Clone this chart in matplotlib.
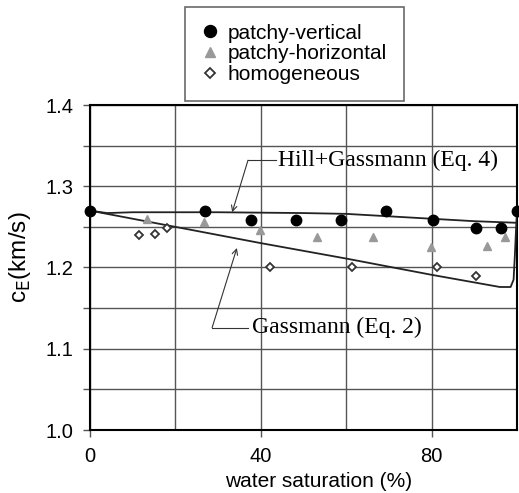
import matplotlib
matplotlib.use("Agg")
from matplotlib import pyplot as plt
from matplotlib.ticker import MultipleLocator

# data
sw_vert = [0, 26.9, 37.6, 48.2, 58.7, 69.3, 80.4, 90.5, 96.2, 100]
c_vert = [1.270, 1.270, 1.259, 1.259, 1.259, 1.270, 1.259, 1.249, 1.249, 1.270]

sw_horiz = [13.3, 26.7, 39.8, 53.2, 66.3, 79.8, 93.0, 97.2]
c_horiz = [1.260, 1.256, 1.246, 1.237, 1.237, 1.225, 1.226, 1.237]

sw_homo = [11.5, 15.2, 18.1, 42.2, 61.3, 81.3, 90.5]
c_homo = [1.240, 1.241, 1.249, 1.200, 1.200, 1.200, 1.190]

sw_hill = [0, 4, 10, 30, 50, 60, 70, 80, 90, 100]
c_hill = [1.270, 1.267, 1.268, 1.268, 1.267, 1.266, 1.263, 1.260, 1.257, 1.255]

sw_gass = [0, 20, 40, 60, 80, 96, 98.5, 99.2, 99.5, 99.8, 100]
c_gass = [1.270, 1.250, 1.230, 1.211, 1.191, 1.176, 1.176, 1.185, 1.215, 1.250, 1.270]

plt.rcParams['font.family'] = ['Liberation Sans', 'DejaVu Sans']

fig = plt.figure(figsize=(5.19, 4.93), dpi=100)
ax = fig.add_axes([90 / 519, 1 - 430 / 493, 427 / 519, 325 / 493])

ax.plot(sw_hill, c_hill, color='#222222', lw=1.3, zorder=3)
ax.plot(sw_gass, c_gass, color='#222222', lw=1.3, zorder=3)

h1, = ax.plot(sw_vert, c_vert, 'o', color='black', ms=7.5, ls='none', zorder=5,
              label='patchy-vertical', clip_on=False)
h2, = ax.plot(sw_horiz, c_horiz, '^', color='#999999', ms=6, ls='none', zorder=4,
              label='patchy-horizontal')
h3, = ax.plot(sw_homo, c_homo, 'D', mfc='white', mec='#333333', mew=1.3, ms=4.5,
              ls='none', zorder=4, label='homogeneous')

ax.set_xlim(0, 100)
ax.set_ylim(1.0, 1.4)
ax.xaxis.set_minor_locator(MultipleLocator(20))
ax.yaxis.set_minor_locator(MultipleLocator(0.05))
ax.set_yticks([1.0, 1.1, 1.2, 1.3, 1.4])
ax.set_yticklabels(['1.0', '1.1', '1.2', '1.3', '1.4'])
ax.set_xticks([0, 40, 80])
ax.set_xticklabels(['0', '40', '80'])
ax.grid(True, which='both', color='#555555', lw=1.0)
ax.set_axisbelow(True)
ax.tick_params(which='both', direction='out', length=5, width=1, color='#555555',
               labelsize=14.5, pad=7)
ax.tick_params(axis='x', which='minor', length=0)
for s in ax.spines.values():
    s.set_color('black')
    s.set_linewidth(1.5)

ax.set_xlabel('water saturation (%)', fontsize=15)
ax.xaxis.set_label_coords(0.536, -0.129)
ax.set_ylabel(r'c$_\mathrm{E}$(km/s)', fontsize=17.5)
ax.yaxis.set_label_coords(-0.133, 0.531)

serif = ['Liberation Serif', 'DejaVu Serif']
arrow = dict(arrowstyle='->', color='#333333', lw=0.8, shrinkA=0, shrinkB=0)
ax.annotate('', xy=(33.3, 1.268), xytext=(37.0, 1.332), arrowprops=arrow)
ax.plot([37.0, 43.6], [1.332, 1.332], color='#333333', lw=0.8)
ax.text(44.0, 1.332, 'Hill+Gassmann (Eq. 4)', family=serif, fontsize=17,
        va='center', ha='left')
ax.annotate('', xy=(34.4, 1.224), xytext=(28.6, 1.126), arrowprops=arrow)
ax.plot([28.6, 37.0], [1.126, 1.126], color='#333333', lw=0.8)
ax.text(38.0, 1.126, 'Gassmann (Eq. 2)', family=serif, fontsize=17,
        va='center', ha='left')

leg = fig.legend(handles=[h1, h2, h3], loc='upper left',
                 bbox_to_anchor=(185 / 519, 1 - 7 / 493), fontsize=15,
                 frameon=True, fancybox=False, edgecolor='#444444',
                 handlelength=0.8, handletextpad=0.45, borderpad=0.8,
                 labelspacing=0.08, borderaxespad=0, markerscale=1.15)
leg.get_frame().set_linewidth(1.2)

fig.savefig('out.png', dpi=100)
